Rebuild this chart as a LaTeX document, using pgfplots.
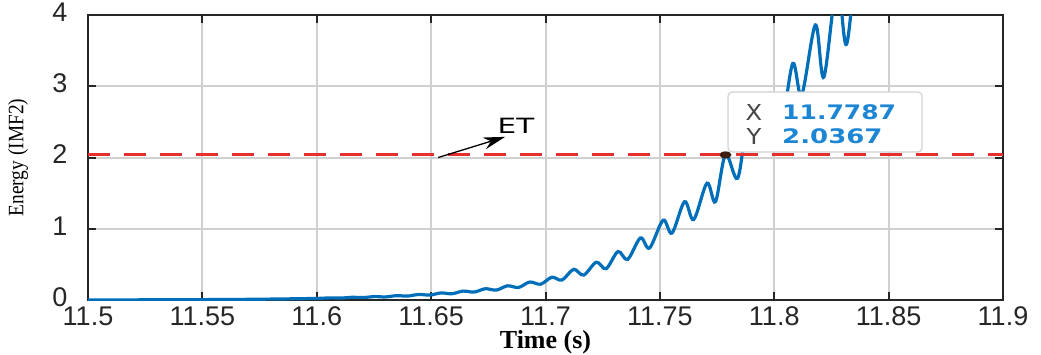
\documentclass[border=0pt]{standalone}
\usepackage{pgfplots}
\pgfplotsset{compat=1.18}
\usepackage{fontspec}
\usepackage{graphicx}
\setmainfont{Liberation Sans}
\newfontfamily\serifnum{Liberation Serif}
\newfontfamily\dejavu{DejaVu Sans}
\usetikzlibrary{arrows.meta}
\definecolor{mblue}{RGB}{0,110,185}
\definecolor{mred}{RGB}{230,48,48}
\definecolor{gridgrey}{RGB}{208,208,208}
\definecolor{axisdark}{RGB}{38,38,38}
\definecolor{tipblue}{RGB}{28,134,212}
\definecolor{tipgrey}{RGB}{70,70,70}
\definecolor{tipborder}{RGB}{210,210,210}
\definecolor{markbrown}{RGB}{60,30,15}
\begin{document}
\begin{tikzpicture}
\begin{axis}[
  scale only axis, width=915pt, height=285pt,
  at={(0,0)}, anchor=south west,
  xmin=11.5, xmax=11.9, ymin=0, ymax=4,
  xtick={11.5,11.55,11.6,11.65,11.7,11.75,11.8,11.85,11.9},
  xticklabels={11.5,11.55,11.6,11.65,11.7,11.75,11.8,11.85,11.9},
  ytick={0,1,2,3,4}, yticklabels={0,1,2,3,4},
  grid=major, major grid style={line width=2pt, color=gridgrey},
  axis line style={line width=2pt, color=axisdark},
  major tick length=8pt,
  every tick/.style={line width=2pt, color=axisdark},
  tick label style={font=\fontsize{27}{27}\selectfont, color=black!85},
  yticklabel style={xshift=-17pt, yshift=3pt},
  xticklabel style={yshift=-3pt},
  xlabel={Time (s)},
  ylabel={\scalebox{0.88}[1]{\serifnum\fontsize{22}{22}\selectfont Energy (IMF2)}},
  xlabel style={at={(axis description cs:0.5,-0.1719)}, anchor=base, font=\serifnum\bfseries\fontsize{26}{26}\selectfont},
  ylabel style={at={(axis description cs:-0.0765,0.5)}, anchor=center},
  clip=true,
]
\addplot[color=mblue, line width=3.2pt, smooth, tension=0.55] coordinates {
(11.500,0.001) (11.520,0.002) (11.540,0.004) (11.560,0.007) (11.575,0.011)
(11.590,0.017) (11.6010,0.023) (11.6058,0.030) (11.6106,0.027) (11.6155,0.038)
(11.6203,0.034) (11.6252,0.048) (11.6300,0.043) (11.6349,0.061) (11.6397,0.055)
(11.6446,0.078) (11.6494,0.069) (11.6543,0.099) (11.6591,0.088) (11.6640,0.125)
(11.6688,0.111) (11.6737,0.158) (11.6785,0.139) (11.6834,0.199) (11.6882,0.176)
(11.6931,0.252) (11.6979,0.222) (11.7028,0.32) (11.7072,0.28) (11.7123,0.43)
(11.7167,0.35) (11.7222,0.53) (11.7265,0.44) (11.7317,0.68) (11.7359,0.57)
(11.7415,0.87) (11.7455,0.73) (11.7514,1.12) (11.7553,0.94) (11.7608,1.38)
(11.7648,1.13) (11.7706,1.64) (11.7743,1.38) (11.7787,2.04) (11.7840,1.71)
(11.7884,2.48) (11.7935,2.10) (11.7981,2.90) (11.8030,2.45) (11.8081,3.32)
(11.8120,2.88) (11.8180,3.86) (11.8217,3.13) (11.8275,4.45) (11.8316,3.59)
(11.8370,5.0) (11.8410,4.2) (11.8470,5.8)
};
\addplot[color=mred, line width=3pt, dash pattern=on 22pt off 14pt] coordinates {(11.5,2.0367) (11.9,2.0367)};
\draw[-{Stealth[length=22pt,width=12pt]}, line width=1.3pt, black] (axis cs:11.6531,2.0) -- (axis cs:11.6824,2.29);
\node[inner sep=0pt] at (axis cs:11.6871,2.449) {\scalebox{1.4}[1]{\dejavu\fontsize{21}{21}\selectfont ET}};
\fill[markbrown] (axis cs:11.7787,2.0367) ellipse [x radius=6pt, y radius=3.5pt];
\draw[tipborder, line width=1.2pt, fill=white, rounded corners=4pt] (axis cs:11.7798,2.077) rectangle (axis cs:11.8646,2.919);
\node[inner sep=0pt, text=tipgrey] at (axis cs:11.7911,2.632) {\scalebox{1.1}[1]{\dejavu\fontsize{22}{22}\selectfont X}};
\node[inner sep=0pt, text=tipgrey] at (axis cs:11.7911,2.292) {\scalebox{1.1}[1]{\dejavu\fontsize{22}{22}\selectfont Y}};
\node[inner sep=0pt, anchor=west, text=tipblue] at (axis cs:11.8034,2.632) {\scalebox{1.25}[1]{\dejavu\bfseries\fontsize{20}{20}\selectfont 11.7787}};
\node[inner sep=0pt, anchor=west, text=tipblue] at (axis cs:11.8034,2.292) {\scalebox{1.3}[1]{\dejavu\bfseries\fontsize{20}{20}\selectfont 2.0367}};
\end{axis}
\pgfresetboundingbox
\path[use as bounding box] (-88pt,-54pt) rectangle (953pt,300pt);
\end{tikzpicture}
\end{document}
